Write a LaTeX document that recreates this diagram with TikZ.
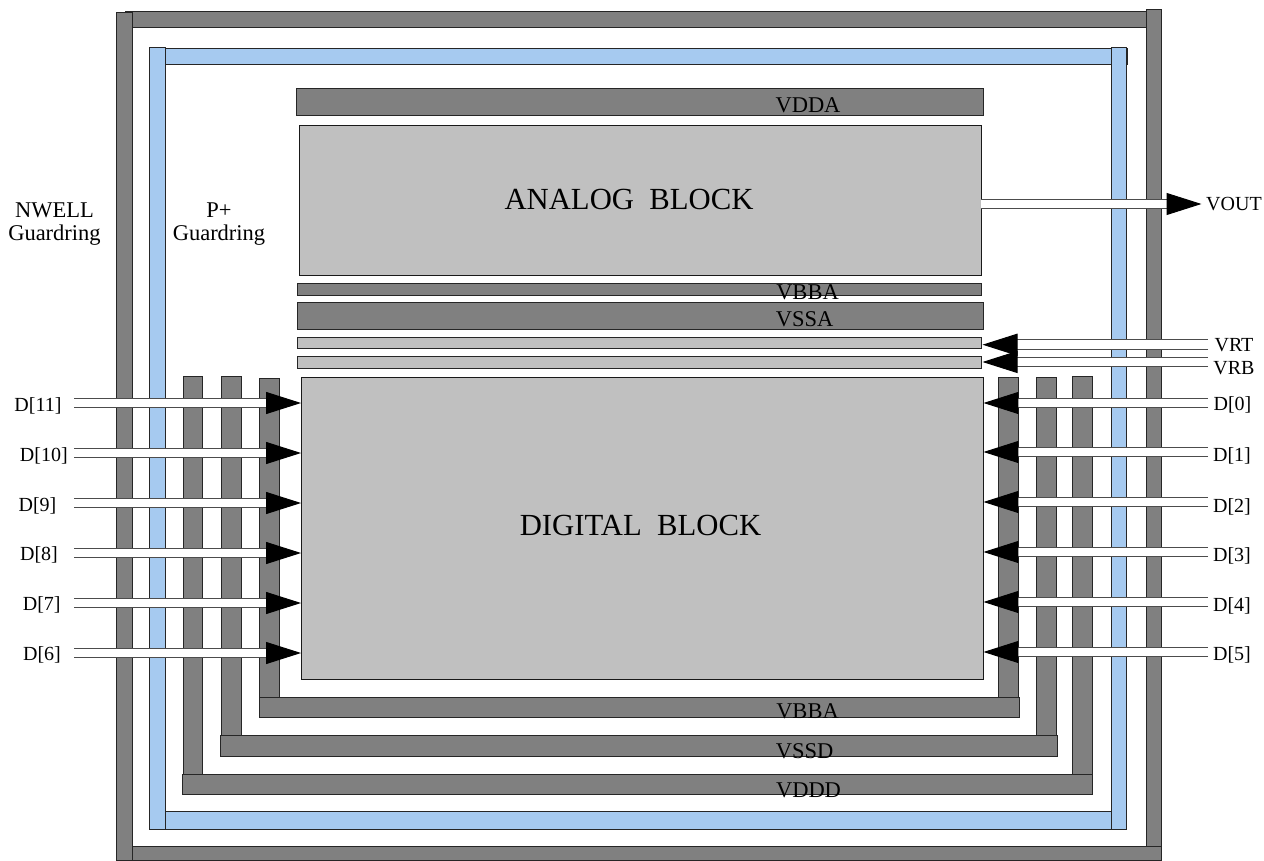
\documentclass[tikz,border=0pt]{standalone}
\usepackage{fontspec}
\setmainfont{Liberation Serif}
\usetikzlibrary{arrows.meta}
\definecolor{metal}{HTML}{808080}
\definecolor{pplus}{HTML}{A6CAF0}
\definecolor{blockgray}{HTML}{C0C0C0}
\tikzset{
    metalbar/.style={draw=black!85, line width=0.9pt, fill=metal},
    ringbar/.style={draw=black!85, line width=0.9pt, fill=pplus},
    refbar/.style={draw=black!85, line width=0.9pt, fill=blockgray},
    block/.style={rectangle, draw=black!90, line width=0.9pt, fill=blockgray, inner sep=0pt, font=\fontsize{30.7}{36}\selectfont},
    pinlabel/.style={inner sep=0pt, align=center, font=\fontsize{20}{22.5}\selectfont},
    barlabel/.style={inner sep=0pt, align=center, text=black, font=\fontsize{22.5}{23.5}\selectfont},
    bus/.style={draw=black!70, line width=1pt, double=white, double distance=8.6pt, -{Triangle[length=35pt,width=22pt,color=black]}}
}

\begin{document}
\begin{tikzpicture}[x=1pt, y=-1pt]
    \useasboundingbox (0,0) rectangle (1264,861);

    % nwell guardring
    \draw[metalbar] (125,11) rectangle (1150,27);
    \draw[metalbar] (125,846) rectangle (1161,860.5);
    \draw[metalbar] (116,12) rectangle (132,860.5);
    \draw[metalbar] (1146,9) rectangle (1161,846);

    % p+ guardring
    \draw[ringbar] (160,48.5) rectangle (1127,64.5);
    \draw[ringbar] (160,811) rectangle (1120,829);
    \draw[ringbar] (149,47.5) rectangle (165,829);
    \draw[ringbar] (1111,47) rectangle (1126,829);

    % digital supply rings
    \draw[metalbar] (183,376) rectangle (202.5,780);
    \draw[metalbar] (221,376.5) rectangle (241,740);
    \draw[metalbar] (259.5,378) rectangle (279.5,700);
    \draw[metalbar] (998.5,377) rectangle (1018.5,700);
    \draw[metalbar] (1036.5,377) rectangle (1056.5,740);
    \draw[metalbar] (1072.5,376.5) rectangle (1092.5,780);
    \draw[metalbar] (259,697) rectangle (1019,717.5);
    \draw[metalbar] (220.5,735.5) rectangle (1057,756);
    \draw[metalbar] (182.5,774) rectangle (1092.5,794.5);

    % analog supply bars
    \draw[metalbar] (296.5,88) rectangle (983,115);
    \draw[metalbar] (297,283) rectangle (981.5,295);
    \draw[metalbar] (297,302) rectangle (983,329);
    \draw[refbar] (297,337) rectangle (981.5,348.5);
    \draw[refbar] (297,356) rectangle (981.5,368);

    % blocks
    \node[block, minimum width=681.5pt, minimum height=150pt] (analog) at (640.25,200) {};
    \node[block, minimum width=681.5pt, minimum height=302pt] (digital) at (642.25,528) {};
    \node[block, draw=none, fill=none] (analogname) at (629,199) {ANALOG\hspace{0.25em} BLOCK};
    \node[block, draw=none, fill=none] (digitalname) at (640.5,525) {DIGITAL\hspace{0.25em} BLOCK};

    % bar names
    \node[barlabel] (vdda) at (808,105) {VDDA};
    \node[barlabel] (vbbatop) at (807.5,292) {VBBA};
    \node[barlabel] (vssa) at (804.7,319.5) {VSSA};
    \node[barlabel] (vbbabot) at (807.5,711) {VBBA};
    \node[barlabel] (vssd) at (804.7,751.5) {VSSD};
    \node[barlabel] (vddd) at (808.5,790) {VDDD};
    \node[barlabel] (nwell) at (54.5,224) {NWELL\\Guardring};
    \node[barlabel] (pguard) at (219,224) {P+\\Guardring};

    % pins
    \node[pinlabel] (d11) at (38,405.5) {D[11]};
    \node[pinlabel] (d10) at (43.8,455.5) {D[10]};
    \node[pinlabel] (d9) at (37.5,505.5) {D[9]};
    \node[pinlabel] (d8) at (39,555) {D[8]};
    \node[pinlabel] (d7) at (41.7,605) {D[7]};
    \node[pinlabel] (d6) at (42,655) {D[6]};
    \node[pinlabel] (d0) at (1232.5,405) {D[0]};
    \node[pinlabel] (d1) at (1232,455.8) {D[1]};
    \node[pinlabel] (d2) at (1232,506.5) {D[2]};
    \node[pinlabel] (d3) at (1232,555.7) {D[3]};
    \node[pinlabel] (d4) at (1232,606) {D[4]};
    \node[pinlabel] (d5) at (1232,655) {D[5]};
    \node[pinlabel] (vrt) at (1234,345) {VRT};
    \node[pinlabel] (vrb) at (1234,368) {VRB};
    \node[pinlabel] (vout) at (1234,203.7) {VOUT};

    \coordinate (d11s) at (74,403);
    \coordinate (d10s) at (74,453);
    \coordinate (d9s) at (74,503);
    \coordinate (d8s) at (74,553);
    \coordinate (d7s) at (74,603);
    \coordinate (d6s) at (74,653);
    \coordinate (d0s) at (1208,403);
    \coordinate (d1s) at (1208,452);
    \coordinate (d2s) at (1208,502);
    \coordinate (d3s) at (1208,552);
    \coordinate (d4s) at (1208,602);
    \coordinate (d5s) at (1208,652);
    \coordinate (vrts) at (1208,344.7);
    \coordinate (vrbs) at (1208,362);
    \coordinate (vrbar) at (982.5,344.7);
    \coordinate (vbbar) at (982.5,362);
    \coordinate (vouts) at (981,204);
    \coordinate (voute) at (1201.5,204);

    \draw[bus] (d11s) -- (digital.west |- d11s);
    \draw[bus] (d10s) -- (digital.west |- d10s);
    \draw[bus] (d9s) -- (digital.west |- d9s);
    \draw[bus] (d8s) -- (digital.west |- d8s);
    \draw[bus] (d7s) -- (digital.west |- d7s);
    \draw[bus] (d6s) -- (digital.west |- d6s);
    \draw[bus] (d0s) -- (digital.east |- d0s);
    \draw[bus] (d1s) -- (digital.east |- d1s);
    \draw[bus] (d2s) -- (digital.east |- d2s);
    \draw[bus] (d3s) -- (digital.east |- d3s);
    \draw[bus] (d4s) -- (digital.east |- d4s);
    \draw[bus] (d5s) -- (digital.east |- d5s);
    \draw[bus] (vrts) -- (vrbar);
    \draw[bus] (vrbs) -- (vbbar);
    \draw[bus] (vouts) -- (voute);
\end{tikzpicture}
\end{document}
